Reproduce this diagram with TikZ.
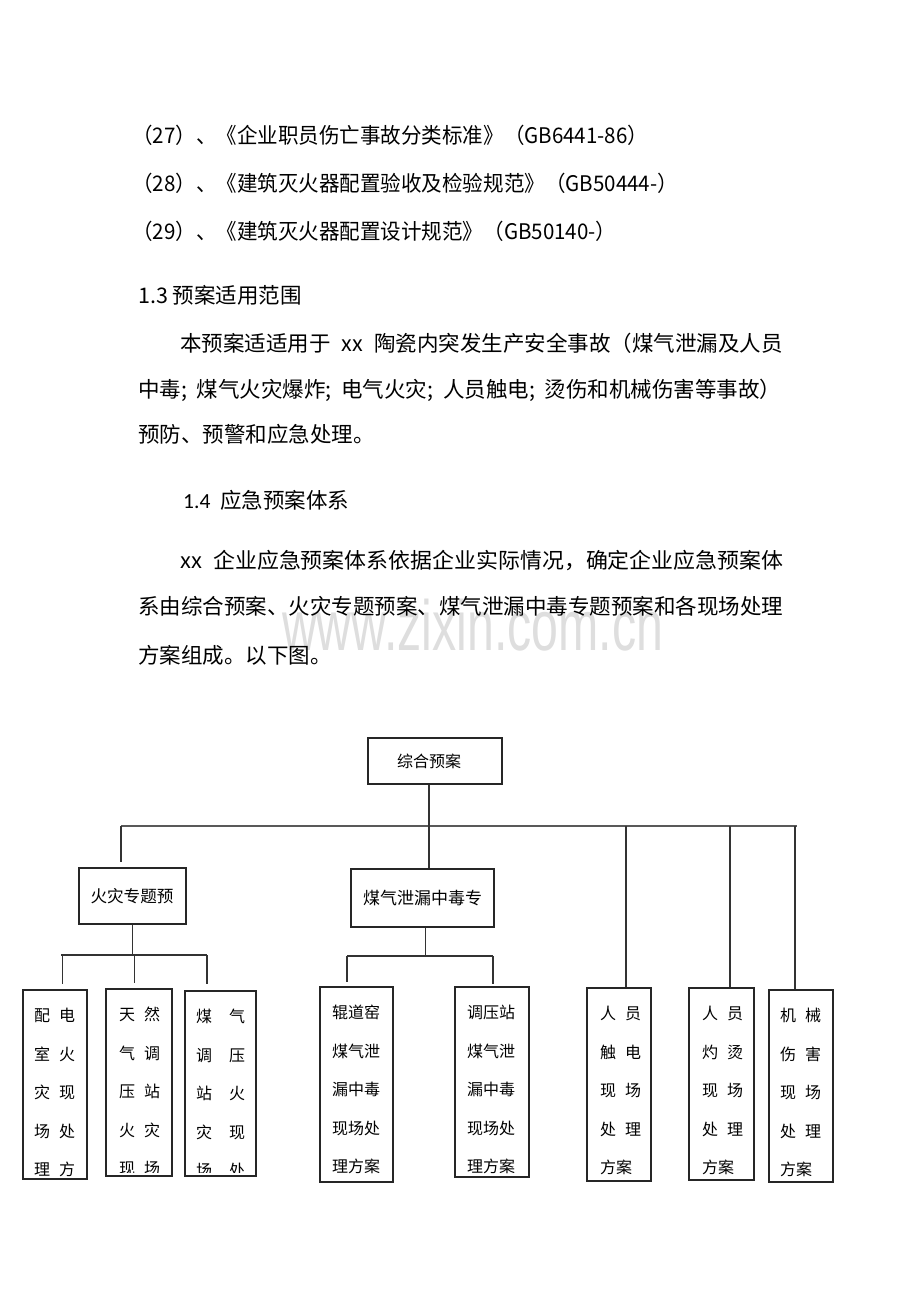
\documentclass[tikz,border=0pt]{standalone}
\usepackage{xcolor}
\usepackage{fontspec}
\setmainfont{Noto Sans CJK SC}
\newfontfamily\numfont{Carlito}
\newfontfamily\markfont{Liberation Sans}
\usepackage{tikz}
\usetikzlibrary{positioning}
\usetikzlibrary{calc}

\newcommand{\cgap}{\hspace{9pt}}
\newcommand{\wgap}{\hspace{17pt}}

\begin{document}
\begin{tikzpicture}
  [
    x=1pt, y=-1pt,
    Body/.style={anchor=base west, inner sep=0pt, font=\fontsize{21.5}{21.5}\selectfont},
    Ref/.style={Body, xscale=0.955},
    Plan/.style={draw=black!85, line width=1.5pt, align=left, inner ysep=0pt},
    Leaf/.style={draw=black!85, line width=1.5pt, inner sep=0pt},
    LeafText/.style={anchor=base west, inner sep=0pt, font=\fontsize{16}{16}\selectfont},
    Link/.style={draw=black!80, line width=1.3pt},
    Bus/.style={draw=black!65, line width=2.2pt}
  ]
  \path [fill=white] (0,0) rectangle (920,1302);

  % Watermark
  \node[anchor=base west, inner sep=0pt, xscale=0.68, text=black!13,
        font=\markfont\fontsize{71}{71}\selectfont] (mark) at (282,650) {www.zixin.com.cn};

  % Text
  \node[Ref] (r27) at (132,143) {（27）、《企业职员伤亡事故分类标准》（GB6441-86）};
  \node[Ref] (r28) at (132,191) {（28）、《建筑灭火器配置验收及检验规范》（GB50444-）};
  \node[Ref] (r29) at (132,239) {（29）、《建筑灭火器配置设计规范》（GB50140-）};
  \node[Body] (s13) at (138,303) {1.3 预案适用范围};
  \node[Body] (a1) at (180,351) {本预案适适用于\hspace{11pt}xx\hspace{11pt}陶瓷内突发生产安全事故（煤气泄漏及人员};
  \node[Body] (a2) at (138,397) {\makebox[643pt][s]{中毒; 煤气火灾爆炸; 电气火灾; 人员触电; 烫伤和机械伤害等事故）}};
  \node[Body] (a3) at (138,442) {预防、预警和应急处理。};
  \node[Body] (s14) at (183,508) {{\numfont 1.4}\hspace{10pt}应急预案体系};
  \node[Body, xscale=1.02] (b1) at (180,568) {xx\hspace{11pt}企业应急预案体系依据企业实际情况，确定企业应急预案体};
  \node[Body] (b2) at (138,614) {系由综合预案、火灾专题预案、煤气泄漏中毒专题预案和各现场处理};
  \node[Body] (b3) at (138,663) {方案组成。以下图。};

  % Nodes
  \node[Plan, minimum width=134, minimum height=46, inner xsep=29, text width=76,
        font=\fontsize{16}{16}\selectfont] (zh) at (435,761) {综合预案};
  \node[Plan, minimum width=107, minimum height=56, inner xsep=11.5, text width=84,
        font=\fontsize{16.6}{16.6}\selectfont] (hz) at (132.5,896) {火灾专题预};
  \node[Plan, minimum width=143, minimum height=58, inner xsep=12, text width=119,
        font=\fontsize{17}{17}\selectfont] (mq) at (422.5,898) {煤气泄漏中毒专};

  \node[Leaf, minimum width=64, minimum height=189] (p1) at (55,1084.5) {};
  \node[Leaf, minimum width=66, minimum height=187] (p2) at (139,1082.5) {};
  \node[Leaf, minimum width=71, minimum height=185] (p3) at (220.5,1083.5) {};
  \node[Leaf, minimum width=73, minimum height=195] (p4) at (356.5,1084.5) {};
  \node[Leaf, minimum width=74, minimum height=190] (p5) at (492,1082) {};
  \node[Leaf, minimum width=64, minimum height=193] (p6) at (619,1084.5) {};
  \node[Leaf, minimum width=65, minimum height=192] (p7) at (721.5,1084) {};
  \node[Leaf, minimum width=64, minimum height=192] (p8) at (801,1086) {};

  \foreach \t [count=\i from 0] in {配\cgap 电, 室\cgap 火, 灾\cgap 现, 场\cgap 处, 理\cgap 方}
    \node[LeafText] (p1-\i) at (34,{1021.5+38.5*\i}) {\t};
  \begin{scope}
    \clip ([yshift=4pt]p2.south west) rectangle (p2.north east);
    \foreach \t [count=\i from 0] in {天\cgap 然, 气\cgap 调, 压\cgap 站, 火\cgap 灾, 现\cgap 场}
      \node[LeafText] (p2-\i) at (119,{1020.5+38.5*\i}) {\t};
  \end{scope}
  \begin{scope}
    \clip ([yshift=4pt]p3.south west) rectangle (p3.north east);
    \foreach \t [count=\i from 0] in {煤\wgap 气, 调\wgap 压, 站\wgap 火, 灾\wgap 现, 场\wgap 处}
      \node[LeafText] (p3-\i) at (196,{1022.5+38.5*\i}) {\t};
  \end{scope}
  \foreach \t [count=\i from 0] in {辊道窑, 煤气泄, 漏中毒, 现场处, 理方案}
    \node[LeafText] (p4-\i) at (332,{1018.5+38.5*\i}) {\t};
  \foreach \t [count=\i from 0] in {调压站, 煤气泄, 漏中毒, 现场处, 理方案}
    \node[LeafText] (p5-\i) at (467,{1018.5+38.5*\i}) {\t};
  \foreach \t [count=\i from 0] in {人\cgap 员, 触\cgap 电, 现\cgap 场, 处\cgap 理, 方案}
    \node[LeafText] (p6-\i) at (600,{1019.5+38.5*\i}) {\t};
  \foreach \t [count=\i from 0] in {人\cgap 员, 灼\cgap 烫, 现\cgap 场, 处\cgap 理, 方案}
    \node[LeafText] (p7-\i) at (702,{1019.5+38.5*\i}) {\t};
  \foreach \t [count=\i from 0] in {机\cgap 械, 伤\cgap 害, 现\cgap 场, 处\cgap 理, 方案}
    \node[LeafText] (p8-\i) at (780,{1021.5+38.5*\i}) {\t};

  % Lines
  \coordinate (trunk) at (429,826);
  \coordinate (busL) at (121,826);
  \coordinate (busR) at (797,826);
  \coordinate (d1) at (626,826);
  \coordinate (d2) at (730,826);
  \coordinate (d3) at (795,826);
  \path [Bus] (busL) -- (busR);
  \path [Link] (trunk |- zh.south) -- (trunk |- mq.north);
  \path [Link] (busL) -- ([yshift=5pt]busL |- hz.north);
  \path [Link] (d1) -- (d1 |- p6.north);
  \path [Link] (d2) -- (d2 |- p7.north);
  \path [Link] (d3) -- (d3 |- p8.north);

  \coordinate (fL) at (61,955);
  \coordinate (fR) at (207,955);
  \coordinate (f1) at (62.5,955);
  \coordinate (f2) at (134.5,955);
  \path [Link] (hz.south) -- (hz.south |- fL);
  \path [Link] (fL) -- (fR);
  \path [Link] (f1) -- ([yshift=5pt]f1 |- p1.north);
  \path [Link] (f2) -- ([yshift=5pt]f2 |- p2.north);
  \path [Link] (fR) -- ([yshift=6pt]fR |- p3.north);

  \coordinate (g0) at (425.5,956);
  \coordinate (gL) at (347,956);
  \coordinate (gR) at (493,956);
  \path [Link] (g0 |- mq.south) -- (g0);
  \path [Link] (gL) -- (gR);
  \path [Link] (gL) -- ([yshift=4pt]gL |- p4.north);
  \path [Link] (gR) -- ([yshift=2pt]gR |- p5.north);

\end{tikzpicture}
\end{document}
